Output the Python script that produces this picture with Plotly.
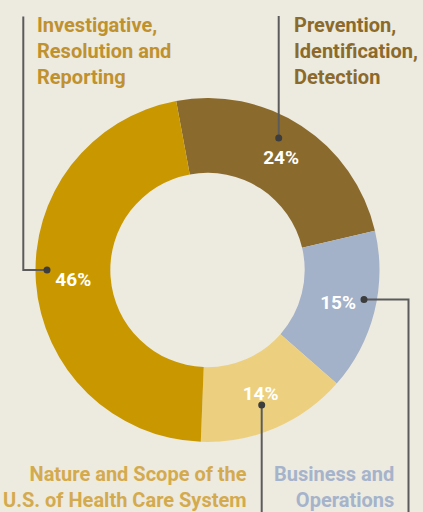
import plotly.graph_objects as go

W, H = 423, 512

categories = ["Prevention, Identification, Detection", "Business and Operations",
              "Nature and Scope of the U.S. of Health Care System",
              "Investigative, Resolution and Reporting"]
values = [24, 15, 14, 46]
slice_colors = ["#8b6b2d", "#a3b1c9", "#ecd07f", "#c99800"]
label_texts = ["Prevention,<br>Identification,<br>Detection",
               "Business and<br>Operations",
               "Nature and Scope of the<br>U.S. of Health Care System",
               "Investigative,<br>Resolution and<br>Reporting"]
label_colors = ["#8b6a2c", "#a5b3cb", "#d4aa4e", "#c0912f"]

BG = "#edeae0"

# pie geometry (pixels)
cx, cy, R = 207.5, 270, 172

def px(x):
    return x / W

def py(y):
    return 1 - y / H

fig = go.Figure(go.Pie(
    labels=categories, values=values, sort=False, direction="clockwise",
    rotation=-10.5, hole=0.565,
    marker=dict(colors=slice_colors, line=dict(width=0)),
    texttemplate="%{value}%", textposition="inside",
    insidetextorientation="horizontal",
    textfont=dict(family="Roboto", size=19, color="white", weight=700),
    hoverinfo="skip", showlegend=False,
    domain=dict(x=[px(cx - R), px(cx + R)], y=[py(cy + R), py(cy - R)]),
))

# leader lines (pixel paths) and dots
leaders = [
    [(278.7, 16), (278.7, 138)],
    [(364, 299.5), (408.5, 299.5), (408.5, 512)],
    [(261.7, 405), (261.7, 512)],
    [(47, 270), (23.3, 270), (23.3, 16.5)],
]
dots = [(278.7, 138), (364, 299.5), (261.7, 405), (47, 270)]
line_col = "#5b5b5b"
shapes = []
for pts in leaders:
    path = "M " + " L ".join(f"{px(x):.5f},{py(y):.5f}" for x, y in pts)
    shapes.append(dict(type="path", xref="paper", yref="paper", path=path,
                       line=dict(color=line_col, width=2)))
for x0, y0 in dots:
    shapes.append(dict(type="circle", xref="paper", yref="paper",
                       x0=px(x0 - 3.5), x1=px(x0 + 3.5), y0=py(y0 + 3.5), y1=py(y0 - 3.5),
                       fillcolor="#3d3d3d", line=dict(width=0)))

label_pos = [
    dict(x=292, y=11, xanchor="left", align="left"),
    dict(x=396, y=460, xanchor="right", align="right"),
    dict(x=249, y=460, xanchor="right", align="right"),
    dict(x=35, y=11, xanchor="left", align="left"),
]
annotations = []
for t, c, p in zip(label_texts, label_colors, label_pos):
    annotations.append(dict(
        text=t, xref="paper", yref="paper", x=px(p["x"]), y=py(p["y"]),
        xanchor=p["xanchor"], yanchor="top", align=p["align"], showarrow=False,
        font=dict(family="Roboto", size=20, color=c, weight=700)))

fig.update_layout(
    width=W, height=H, margin=dict(l=0, r=0, t=0, b=0),
    paper_bgcolor=BG, plot_bgcolor=BG,
    shapes=shapes, annotations=annotations,
    uniformtext=dict(minsize=18, mode="show"),
)

fig.write_html("out.html")
